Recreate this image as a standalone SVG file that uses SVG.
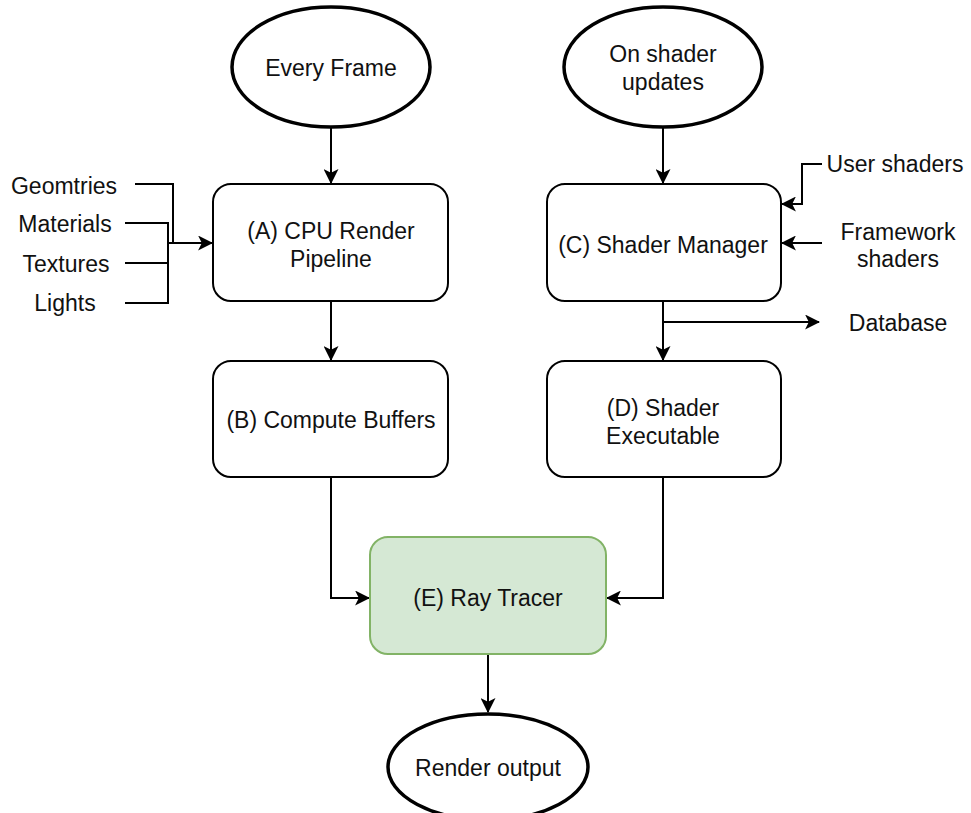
<svg xmlns="http://www.w3.org/2000/svg" width="971" height="813" viewBox="0 0 971 813">
<defs>
<style>
.box{fill:#fff;stroke:#000;stroke-width:2}
.green{fill:#d5e8d4;stroke:#82b366;stroke-width:2}
.ell{fill:#fff;stroke:#000;stroke-width:3.5}
.t{font-family:"Liberation Sans",Arial,sans-serif;font-size:23px;fill:#111;text-anchor:middle;dominant-baseline:central}
.c{fill:none;stroke:#000;stroke-width:2}
</style>
<marker id="a" viewBox="0 0 14 14" refX="13" refY="7" markerWidth="15" markerHeight="15" markerUnits="userSpaceOnUse" orient="auto">
<path d="M0,0 L14,7 L0,14 L3.5,7 Z" fill="#000"/>
</marker>
</defs>
<rect width="971" height="813" fill="#fff"/>
<g id="connectors">
<path class="c" d="M331,128 V183" marker-end="url(#a)"/>
<path class="c" d="M331,301 V360" marker-end="url(#a)"/>
<path class="c" d="M331,477 V598 H369" marker-end="url(#a)"/>
<path class="c" d="M663,128 V183" marker-end="url(#a)"/>
<path class="c" d="M663,301 V360" marker-end="url(#a)"/>
<path class="c" d="M663,322 H819" marker-end="url(#a)"/>
<path class="c" d="M663,477 V598 H607" marker-end="url(#a)"/>
<path class="c" d="M488,654 V712" marker-end="url(#a)"/>
<path class="c" d="M822,164 H802 V204 H782" marker-end="url(#a)"/>
<path class="c" d="M822,243 H782" marker-end="url(#a)"/>
<path class="c" d="M135,184 H173 V243"/>
<path class="c" d="M125,223 H168 V303 H125"/>
<path class="c" d="M125,263 H168"/>
<path class="c" d="M168,243 H212" marker-end="url(#a)"/>
</g>
<g id="every-frame"><ellipse class="ell" cx="331" cy="67" rx="99" ry="60"/><text class="t" x="331" y="68">Every Frame</text></g>
<g id="on-shader-updates"><ellipse class="ell" cx="663" cy="67" rx="99" ry="60"/><text class="t" x="663" y="54">On shader</text><text class="t" x="663" y="82">updates</text></g>
<g id="node-a"><rect class="box" x="213" y="184" width="235" height="117" rx="18"/><text class="t" x="331" y="231">(A) CPU Render</text><text class="t" x="331" y="259">Pipeline</text></g>
<g id="node-b"><rect class="box" x="213" y="361" width="235" height="116" rx="18"/><text class="t" x="331" y="420">(B) Compute Buffers</text></g>
<g id="node-c"><rect class="box" x="547" y="184" width="234" height="117" rx="18"/><text class="t" x="663" y="245">(C) Shader Manager</text></g>
<g id="node-d"><rect class="box" x="547" y="361" width="234" height="116" rx="18"/><text class="t" x="663" y="408">(D) Shader</text><text class="t" x="663" y="436">Executable</text></g>
<g id="node-e"><rect class="green" x="370" y="537" width="236" height="117" rx="18"/><text class="t" x="488" y="598">(E) Ray Tracer</text></g>
<g id="render-output"><ellipse class="ell" cx="488" cy="767" rx="100" ry="53"/><text class="t" x="488" y="768">Render output</text></g>
<g id="inputs-left">
<text class="t" x="64" y="186">Geomtries</text>
<text class="t" x="65" y="224">Materials</text>
<text class="t" x="66" y="264">Textures</text>
<text class="t" x="65" y="303">Lights</text>
</g>
<g id="inputs-right">
<text class="t" x="895" y="164">User shaders</text>
<text class="t" x="898" y="232">Framework</text>
<text class="t" x="898" y="259">shaders</text>
<text class="t" x="898" y="323">Database</text>
</g>
</svg>
